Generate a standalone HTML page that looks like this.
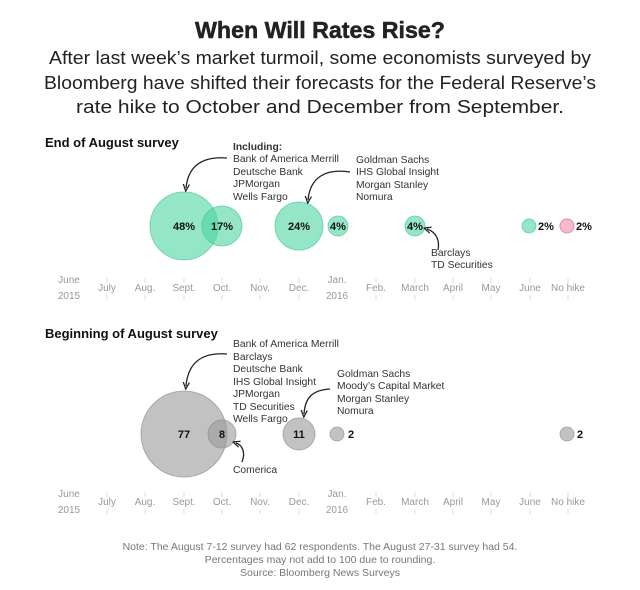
<!DOCTYPE html>
<html><head><meta charset="utf-8"><style>
body{margin:0;background:#fff}
svg{display:block;font-family:"Liberation Sans",Arial,sans-serif}
.ax{font-size:10px;fill:#999;text-anchor:middle}
.lb{font-size:10.3px;fill:#333}
.v{font-size:11px;font-weight:bold;fill:#111;text-anchor:middle}
.tk{stroke:#ddd;stroke-width:1}
.ar{fill:none;stroke:#222;stroke-width:1.3}
</style></head><body>
<svg width="640" height="590" viewBox="0 0 640 590">
<defs><marker id="m" viewBox="0 0 10 10" refX="5" refY="5" markerWidth="6" markerHeight="6" orient="auto"><path d="M0,1 L9,5 L0,9" fill="none" stroke="#222" stroke-width="1.6"/></marker></defs>
<text x="320" y="38" text-anchor="middle" font-size="23" font-weight="bold" fill="#222" stroke="#222" stroke-width="0.5" textLength="250" lengthAdjust="spacingAndGlyphs">When Will Rates Rise?</text>
<g font-size="18" fill="#222" text-anchor="middle">
<text x="320" y="64" textLength="542" lengthAdjust="spacingAndGlyphs">After last week’s market turmoil, some economists surveyed by</text>
<text x="320" y="89" textLength="552" lengthAdjust="spacingAndGlyphs">Bloomberg have shifted their forecasts for the Federal Reserve’s</text>
<text x="320" y="113" textLength="488" lengthAdjust="spacingAndGlyphs">rate hike to October and December from September.</text>
</g>

<text x="45" y="147" font-size="13" font-weight="bold" fill="#111">End of August survey</text>
<g fill="#4dd6a0" fill-opacity="0.6" stroke="#3cc48f" stroke-opacity="0.6">
<circle cx="184" cy="226" r="34"/><circle cx="222" cy="226" r="20"/>
<circle cx="299" cy="226" r="24"/><circle cx="338" cy="226" r="10"/>
<circle cx="415" cy="226" r="10"/><circle cx="529" cy="226" r="7"/>
</g>
<circle cx="567" cy="226" r="7" fill="#f6a8c4" fill-opacity="0.8" stroke="#e58aac"/>
<text class="v" x="184" y="230">48%</text><text class="v" x="222" y="230">17%</text>
<text class="v" x="299" y="230">24%</text><text class="v" x="338" y="230">4%</text>
<text class="v" x="415" y="230">4%</text>
<text class="v" x="546" y="230">2%</text><text class="v" x="584" y="230">2%</text>
<text class="lb" x="233" y="150" font-weight="bold" fill="#111">Including:</text>
<g class="lb"><text x="233" y="162">Bank of America Merrill</text><text x="233" y="175">Deutsche Bank</text><text x="233" y="187">JPMorgan</text><text x="233" y="200">Wells Fargo</text>
<text x="356" y="163">Goldman Sachs</text><text x="356" y="175">IHS Global Insight</text><text x="356" y="188">Morgan Stanley</text><text x="356" y="200">Nomura</text>
<text x="431" y="256">Barclays</text><text x="431" y="268">TD Securities</text></g>
<path class="ar" d="M227,158 C200,156 188,168 186,188" marker-end="url(#m)"/>
<path class="ar" d="M350,172 C325,168 310,178 308,200" marker-end="url(#m)"/>
<path class="ar" d="M438,250 C440,240 436,232 427,229" marker-end="url(#m)"/>

<g class="ax">
<text x="69" y="283">June</text><text x="69" y="299">2015</text>
<text x="107" y="291">July</text><text x="145" y="291">Aug.</text><text x="184" y="291">Sept.</text><text x="222" y="291">Oct.</text><text x="260" y="291">Nov.</text><text x="299" y="291">Dec.</text>
<text x="337" y="283">Jan.</text><text x="337" y="299">2016</text>
<text x="376" y="291">Feb.</text><text x="415" y="291">March</text><text x="453" y="291">April</text><text x="491" y="291">May</text><text x="530" y="291">June</text><text x="568" y="291">No hike</text>
</g>
<g class="tk"><path d="M107,278v5M145,278v5M184,278v5M222,278v5M260,278v5M299,278v5M376,278v5M415,278v5M453,278v5M491,278v5M530,278v5M568,278v5M107,295v5M145,295v5M184,295v5M222,295v5M260,295v5M299,295v5M376,295v5M415,295v5M453,295v5M491,295v5M530,295v5M568,295v5"/></g>

<text x="45" y="338" font-size="13" font-weight="bold" fill="#111">Beginning of August survey</text>
<g fill="#999" fill-opacity="0.6" stroke="#888" stroke-opacity="0.6">
<circle cx="184" cy="434" r="43"/><circle cx="222" cy="434" r="14"/>
<circle cx="299" cy="434" r="16"/><circle cx="337" cy="434" r="7"/><circle cx="567" cy="434" r="7"/>
</g>
<text class="v" x="184" y="438">77</text><text class="v" x="222" y="438">8</text><text class="v" x="299" y="438">11</text>
<text class="v" x="351" y="438">2</text><text class="v" x="580" y="438">2</text>
<g class="lb"><text x="233" y="347">Bank of America Merrill</text><text x="233" y="360">Barclays</text><text x="233" y="372">Deutsche Bank</text><text x="233" y="385">IHS Global Insight</text><text x="233" y="397">JPMorgan</text><text x="233" y="410">TD Securities</text><text x="233" y="422">Wells Fargo</text>
<text x="337" y="377">Goldman Sachs</text><text x="337" y="389">Moody’s Capital Market</text><text x="337" y="402">Morgan Stanley</text><text x="337" y="414">Nomura</text>
<text x="233" y="473">Comerica</text></g>
<path class="ar" d="M227,354 C200,352 188,364 186,386" marker-end="url(#m)"/>
<path class="ar" d="M330,389 C312,390 305,398 304,414" marker-end="url(#m)"/>
<path class="ar" d="M242,462 C246,452 242,445 236,443" marker-end="url(#m)"/>

<g class="ax">
<text x="69" y="497">June</text><text x="69" y="513">2015</text>
<text x="107" y="505">July</text><text x="145" y="505">Aug.</text><text x="184" y="505">Sept.</text><text x="222" y="505">Oct.</text><text x="260" y="505">Nov.</text><text x="299" y="505">Dec.</text>
<text x="337" y="497">Jan.</text><text x="337" y="513">2016</text>
<text x="376" y="505">Feb.</text><text x="415" y="505">March</text><text x="453" y="505">April</text><text x="491" y="505">May</text><text x="530" y="505">June</text><text x="568" y="505">No hike</text>
</g>
<g class="tk"><path d="M107,492v5M145,492v5M184,492v5M222,492v5M260,492v5M299,492v5M376,492v5M415,492v5M453,492v5M491,492v5M530,492v5M568,492v5M107,509v5M145,509v5M184,509v5M222,509v5M260,509v5M299,509v5M376,509v5M415,509v5M453,509v5M491,509v5M530,509v5M568,509v5"/></g>

<g font-size="10.5" fill="#777" text-anchor="middle">
<text x="320" y="550">Note: The August 7-12 survey had 62 respondents. The August 27-31 survey had 54.</text>
<text x="320" y="563">Percentages may not add to 100 due to rounding.</text>
<text x="320" y="576">Source: Bloomberg News Surveys</text>
</g>
</svg>
</body></html>
